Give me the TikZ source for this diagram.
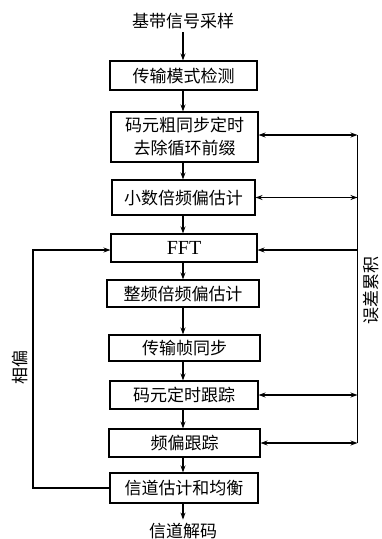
\documentclass[tikz,border=0pt]{standalone}
\usepackage{fontspec}
\newfontfamily\cjk{Noto Sans CJK SC}
\newfontfamily\serifff{Liberation Serif}
\usetikzlibrary{arrows.meta}
\begin{document}
\begin{tikzpicture}[x=1pt,y=-1pt,
  every node/.style={font=\fontsize{17}{23}\selectfont\cjk},
  blk/.style={draw=black,line width=1.1pt,inner sep=0pt,align=center},
  arr/.style={line width=1.1pt,-{Stealth[length=7pt,width=5pt]}},
  darr/.style={line width=1.1pt,{Stealth[length=7pt,width=5pt]}-{Stealth[length=7pt,width=5pt]}},
  ln/.style={line width=1.1pt}]
\useasboundingbox (0,0) rectangle (381,539);
\node (in) at (183,21) {基带信号采样};
\node[blk,minimum width=147pt,minimum height=29pt] (b1) at (183.5,75.5) {传输模式检测};
\node[blk,minimum width=147pt,minimum height=50pt] (b2) at (184.5,137) {码元粗同步定时\\去除循环前缀};
\node[blk,minimum width=143pt,minimum height=35pt] (b3) at (183.5,197.5) {小数倍频偏估计};
\node[blk,minimum width=146pt,minimum height=28pt] (b4) at (184,248) {\fontsize{20}{22}\selectfont\serifff FFT};
\node[blk,minimum width=152pt,minimum height=27pt] (b5) at (183,293.5) {整频倍频偏估计};
\node[blk,minimum width=151pt,minimum height=26pt] (b6) at (184.5,348) {传输帧同步};
\node[blk,minimum width=148pt,minimum height=28pt] (b7) at (184,395) {码元定时跟踪};
\node[blk,minimum width=151pt,minimum height=28pt] (b8) at (184.5,443) {频偏跟踪};
\node[blk,minimum width=148pt,minimum height=30pt] (b9) at (184,488) {信道估计和均衡};
\node (out) at (183,531) {信道解码};
\draw[arr] (in.south -| 183,0) -- (b1.north -| 183,0);
\draw[arr] (b1.south -| 183,0) -- (b2.north -| 183,0);
\draw[arr] (b2.south -| 183,0) -- (b3.north -| 183,0);
\draw[arr] (b3.south -| 183,0) -- (b4.north -| 183,0);
\draw[arr] (b4.south -| 183,0) -- (b5.north -| 183,0);
\draw[arr] (b5.south -| 183,0) -- (b6.north -| 183,0);
\draw[arr] (b6.south -| 183,0) -- (b7.north -| 183,0);
\draw[arr] (b7.south -| 183,0) -- (b8.north -| 183,0);
\draw[arr] (b8.south -| 183,0) -- (b9.north -| 183,0);
\draw[arr] (b9.south -| 183,0) -- (out.north -| 183,0);
\coordinate (rt) at (357.5,135);
\coordinate (rb) at (357.5,443);
\draw[ln] (rt) -- (rb);
\draw[darr] (b2.east |- 0,135) -- (rt);
\draw[darr] (b3.east |- 0,197.5) -- (357.5,197.5);
\draw[arr] (357.5,250) -- (b4.east |- 0,250);
\draw[darr] (b7.east) -- (357.5,395);
\draw[darr] (b8.east) -- (rb);
\draw[arr] (b9.west) -- (33,488) -- (33,250) -- (b4.west |- 0,250);
\node[rotate=90] (lbl1) at (20,367) {相偏};
\node[rotate=90] (lbl2) at (371,290) {误差累积};
\end{tikzpicture}
\end{document}
